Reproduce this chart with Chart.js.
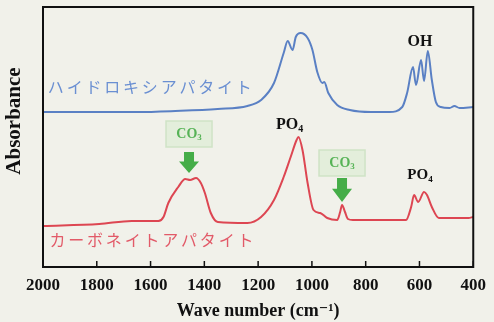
<!DOCTYPE html>
<html>
<head>
<meta charset="utf-8">
<script src="https://cdn.jsdelivr.net/npm/chart.js@4.4.0/dist/chart.umd.min.js"></script>
<style>
  html, body { margin: 0; padding: 0; background: #f1f1ea; }
  #wrap { width: 494px; height: 322px; }
</style>
</head>
<body>
<div id="wrap"><canvas id="irChart" width="494" height="322"></canvas></div>
<script>
// hydroxyapatite (blue) spectrum
const haWave = [2000, 1791, 1650, 1508, 1350, 1240, 1189, 1141, 1105, 1090, 1072, 1060, 1042, 1016, 998, 980, 961, 954, 939, 906, 859, 780, 712, 664, 646, 624, 613, 594, 583, 569, 554, 539, 521, 488, 470, 451, 400];
const haAbs  = [155, 155, 155, 156, 158, 161, 167, 184, 214, 226, 217, 230, 234, 229, 217, 195, 184, 185, 174, 162, 157, 155, 155, 160, 174, 200, 182, 207, 186, 216, 187, 165, 160, 159, 161, 159, 160];

// carbonate apatite (red) spectrum
const caWave = [2000, 1791, 1670, 1571, 1552, 1534, 1497, 1471, 1453, 1431, 1413, 1398, 1376, 1350, 1240, 1189, 1141, 1105, 1079, 1057, 1050, 1035, 1016, 994, 969, 943, 906, 895, 888, 877, 866, 848, 650, 631, 620, 605, 583, 572, 554, 528, 418, 400];
const caAbs  = [41, 43, 46, 46, 50, 64, 80, 88, 87, 89, 84, 74, 54, 45, 44, 50, 67, 90, 110, 127, 130, 117, 84, 57, 54, 49, 47, 55, 62, 55, 48, 47, 47, 60, 72, 65, 75, 72, 60, 49, 49, 50];

const xTicks = [2000, 1800, 1600, 1400, 1200, 1000, 800, 600, 400];

const haName = "ハイドロキシアパタイト";
const caName = "カーボネイトアパタイト";

const toPoints = (xs, ys) => xs.map((x, i) => ({ x: x, y: ys[i] }));

const serif = "'Liberation Serif', 'DejaVu Serif', serif";
const jp = "'Noto Sans CJK JP', sans-serif";

// labels, boxes and arrows, placed in data space
function drawSub(ctx, main, sub, cx, cy, size, color) {
  ctx.font = "bold " + size + "px " + serif;
  const w1 = ctx.measureText(main).width;
  ctx.font = "bold " + Math.round(size * 0.62) + "px " + serif;
  const w2 = ctx.measureText(sub).width;
  const x0 = cx - (w1 + w2) / 2;
  ctx.fillStyle = color;
  ctx.textAlign = "left";
  ctx.textBaseline = "middle";
  ctx.font = "bold " + size + "px " + serif;
  ctx.fillText(main, x0, cy);
  ctx.font = "bold " + Math.round(size * 0.62) + "px " + serif;
  ctx.fillText(sub, x0 + w1, cy + size * 0.28);
}

function drawCO3(ctx, x, yBox, yTop, yTip) {
  ctx.fillStyle = "rgba(215,235,205,0.55)";
  ctx.strokeStyle = "#cfe3c6";
  ctx.lineWidth = 1.5;
  ctx.fillRect(x - 23, yBox - 13, 46, 26);
  ctx.strokeRect(x - 23, yBox - 13, 46, 26);
  drawSub(ctx, "CO", "3", x, yBox, 14, "#56b356");
  ctx.fillStyle = "#45ad48";
  const mid = yTop + (yTip - yTop) * 0.45;
  ctx.beginPath();
  ctx.moveTo(x - 5, yTop);
  ctx.lineTo(x + 5, yTop);
  ctx.lineTo(x + 5, mid);
  ctx.lineTo(x + 10, mid);
  ctx.lineTo(x, yTip);
  ctx.lineTo(x - 10, mid);
  ctx.lineTo(x - 5, mid);
  ctx.closePath();
  ctx.fill();
}

const decor = {
  id: "decor",
  afterDatasetsDraw(chart) {
    const ctx = chart.ctx;
    const xs = chart.scales.x, ys = chart.scales.y;
    const a = chart.chartArea;
    ctx.save();

    // frame
    ctx.strokeStyle = "#111";
    ctx.lineWidth = 2;
    ctx.strokeRect(a.left, a.top, a.right - a.left, a.bottom - a.top);

    // inward ticks
    ctx.lineWidth = 1.5;
    xs.ticks.forEach(t => {
      const px = xs.getPixelForValue(t.value);
      ctx.beginPath();
      ctx.moveTo(px, a.bottom);
      ctx.lineTo(px, a.bottom - 6);
      ctx.stroke();
    });

    // series names
    ctx.textAlign = "left";
    ctx.textBaseline = "middle";
    ctx.font = "16px " + jp;
    if ("letterSpacing" in ctx) ctx.letterSpacing = "2.8px";
    ctx.fillStyle = "#6a8fd2";
    ctx.fillText(haName, xs.getPixelForValue(1982), ys.getPixelForValue(180));
    ctx.fillStyle = "#e25a68";
    ctx.fillText(caName, xs.getPixelForValue(1976), ys.getPixelForValue(27));
    if ("letterSpacing" in ctx) ctx.letterSpacing = "0px";

    // band labels
    ctx.fillStyle = "#111";
    ctx.font = "bold 16px " + serif;
    ctx.textAlign = "center";
    ctx.fillText("OH", xs.getPixelForValue(598), ys.getPixelForValue(225));
    drawSub(ctx, "PO", "4", xs.getPixelForValue(1083), ys.getPixelForValue(142), 16, "#111");
    drawSub(ctx, "PO", "4", xs.getPixelForValue(598), ys.getPixelForValue(92), 15, "#111");

    // carbonate markers
    drawCO3(ctx, xs.getPixelForValue(1457), ys.getPixelForValue(133), ys.getPixelForValue(115), ys.getPixelForValue(94));
    drawCO3(ctx, xs.getPixelForValue(888), ys.getPixelForValue(104), ys.getPixelForValue(89), ys.getPixelForValue(65));

    // y title
    ctx.translate(15, 121);
    ctx.rotate(-Math.PI / 2);
    ctx.fillStyle = "#111";
    ctx.font = "bold 21px " + serif;
    ctx.textAlign = "center";
    ctx.textBaseline = "middle";
    ctx.fillText("Absorbance", 0, 0);
    ctx.restore();
  }
};

new Chart(document.getElementById("irChart").getContext("2d"), {
  type: "line",
  data: {
    datasets: [
      {
        label: haName,
        data: toPoints(haWave, haAbs),
        borderColor: "#5a80c4",
        borderWidth: 2,
        pointRadius: 0,
        cubicInterpolationMode: "monotone",
        fill: false
      },
      {
        label: caName,
        data: toPoints(caWave, caAbs),
        borderColor: "#dd4652",
        borderWidth: 2,
        pointRadius: 0,
        cubicInterpolationMode: "monotone",
        fill: false
      }
    ]
  },
  options: {
    responsive: false,
    animation: false,
    devicePixelRatio: 1,
    layout: { padding: { left: 0, right: 15, top: 7, bottom: 0 } },
    plugins: {
      legend: { display: false },
      tooltip: { enabled: false }
    },
    scales: {
      x: {
        type: "linear",
        reverse: true,
        min: 400,
        max: 2000,
        afterBuildTicks: s => { s.ticks = xTicks.map(v => ({ value: v })); },
        afterFit: s => { s.height = 55; },
        grid: { display: false, drawTicks: false },
        border: { display: false },
        ticks: {
          callback: v => String(v),
          color: "#111",
          padding: 8,
          maxRotation: 0,
          font: { family: serif, size: 17, weight: "bold" }
        },
        title: {
          display: true,
          text: "Wave number (cm⁻¹)",
          color: "#111",
          padding: { top: 0, bottom: 0 },
          font: { family: serif, size: 18, weight: "bold" }
        }
      },
      y: {
        min: 0,
        max: 260,
        afterFit: s => { s.width = 43; },
        grid: { display: false },
        border: { display: false },
        ticks: { display: false }
      }
    }
  },
  plugins: [decor]
});
</script>
</body>
</html>
